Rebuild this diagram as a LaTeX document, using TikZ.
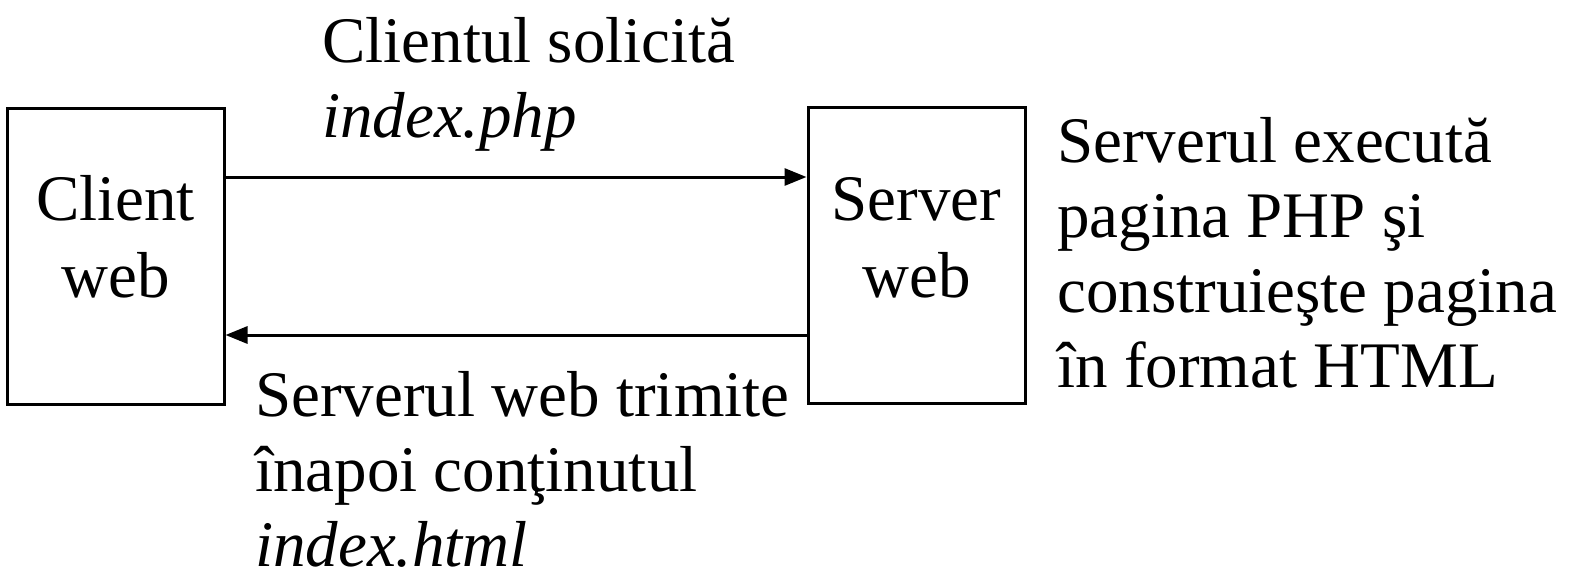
\documentclass[tikz,border=0pt]{standalone}
\usepackage{fontspec}
\setmainfont{Liberation Serif}
\usetikzlibrary{arrows.meta}
\begin{document}
\begin{tikzpicture}[x=1pt,y=-1pt,
  box/.style={draw,line width=3pt,minimum width=217pt,minimum height=296pt,inner sep=0pt},
  lbl/.style={inner sep=0pt,font=\fontsize{65}{75}\selectfont},
  boxlbl/.style={inner sep=0pt,anchor=base,align=center,font=\fontsize{65}{77}\selectfont},
  arr/.style={line width=3pt,-{Triangle[length=22pt,width=17pt]}}]
\useasboundingbox (0,0) rectangle (1570,576);
\node[box] (client) at (115.5,256) {};
\node[box] (server) at (916.5,255) {};
\node[boxlbl] (clientlbl) at (115.5,297) {Client\\web};
\node[boxlbl] (serverlbl) at (916.5,297) {Server\\web};
\draw[arr] ([yshift=79pt]client.east) -- ([yshift=78pt]server.west);
\draw[arr] ([yshift=-80pt]server.west) -- ([yshift=-79pt]client.east);
\node[lbl,anchor=base west,align=left] (req) at (322,137) {Clientul solicită\\\textit{index.php}};
\node[lbl,anchor=base west,align=left] (exec) at (1057,387) {Serverul execută\\pagina PHP şi\\construieşte pagina\\în format HTML};
\node[lbl,anchor=base west,align=left] (resp) at (255,566) {Serverul web trimite\\înapoi conţinutul\\\textit{index.html}};
\end{tikzpicture}
\end{document}
